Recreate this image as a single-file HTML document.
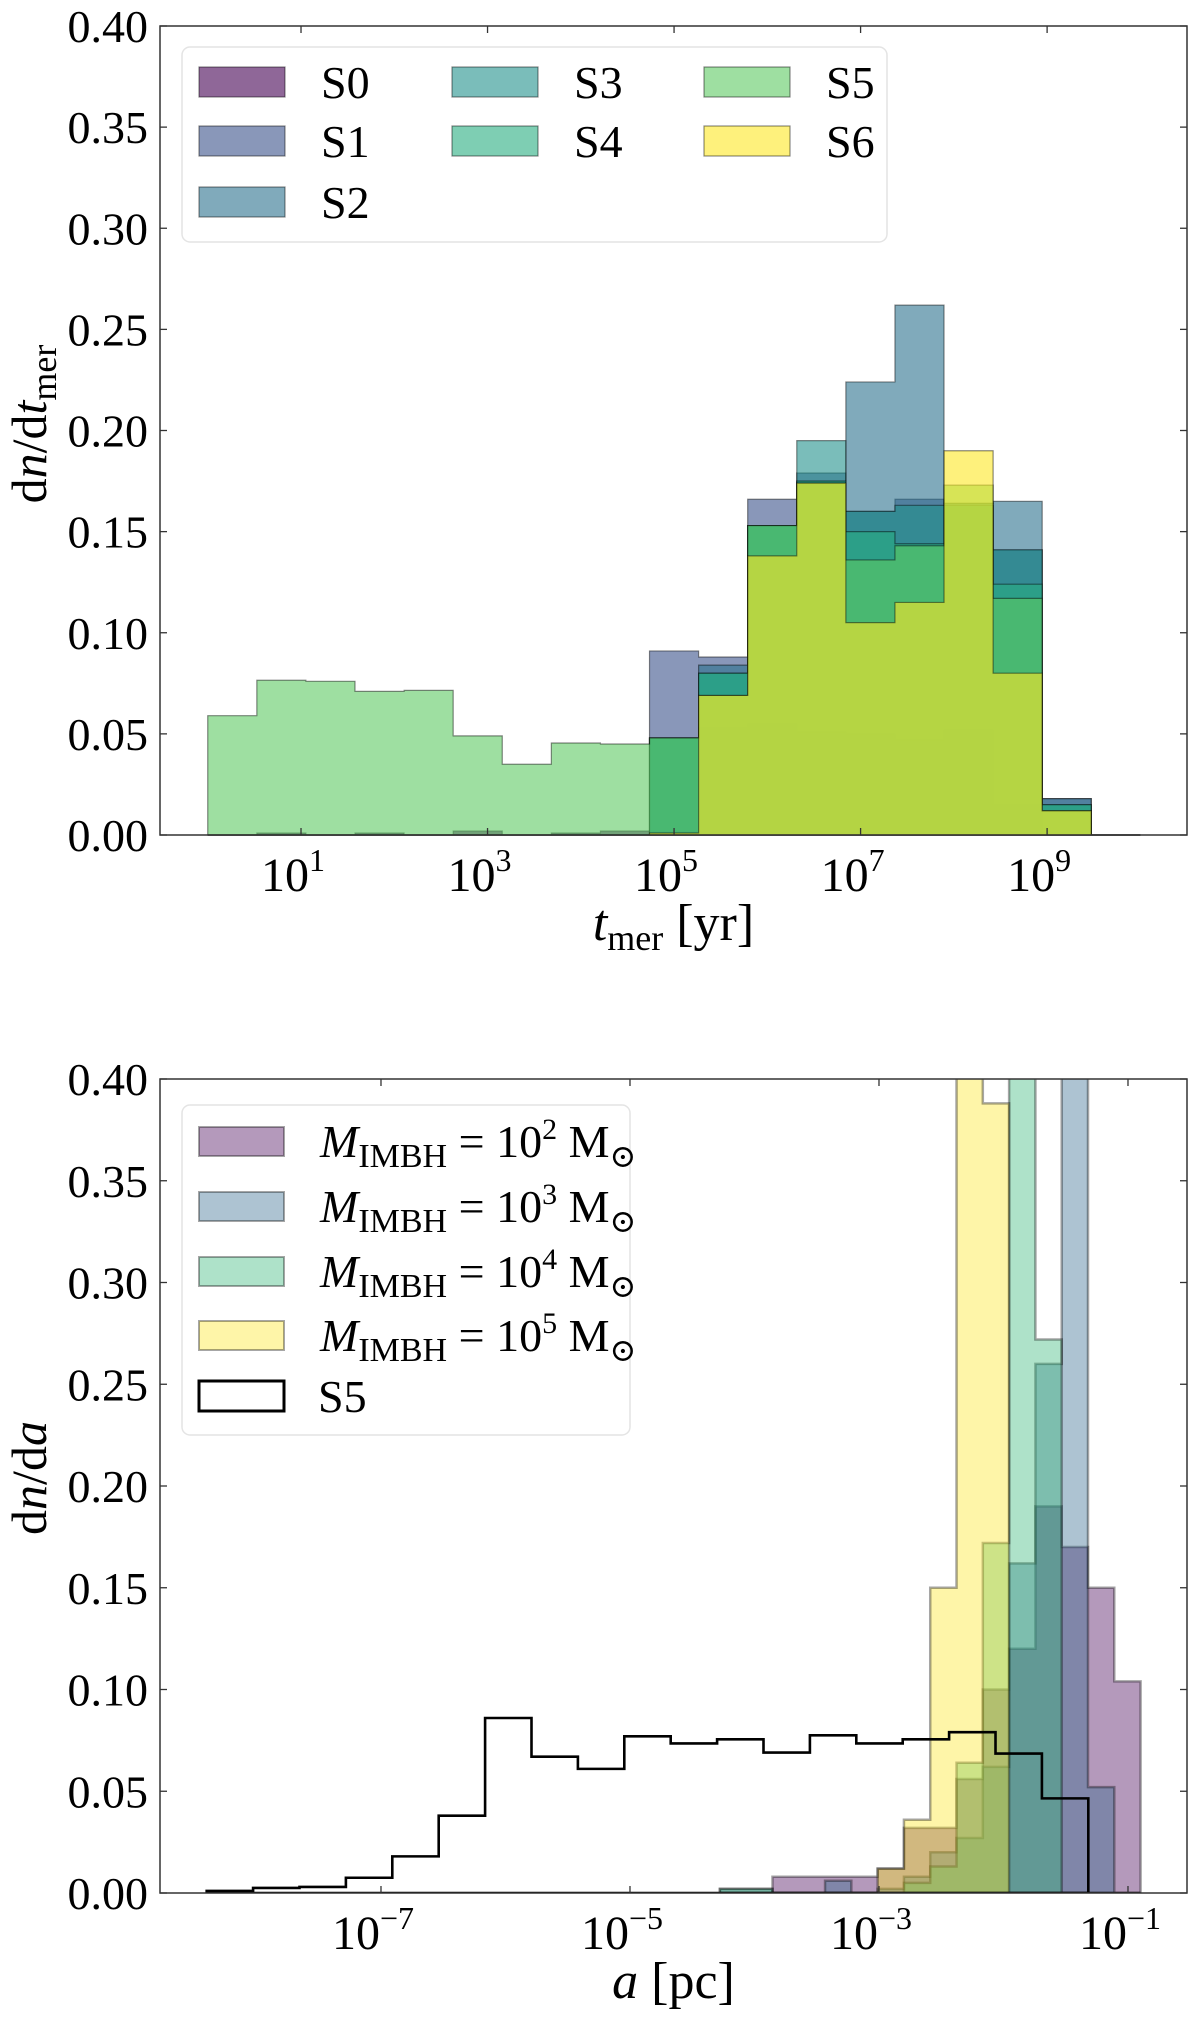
<!DOCTYPE html>
<html><head><meta charset="utf-8">
<style>
html,body{margin:0;padding:0;background:#fff;}
svg{display:block;font-family:"Liberation Serif","DejaVu Serif",serif;}
</style></head>
<body>
<svg id="fig" width="1200" height="2019" viewBox="0 0 1200 2019" xmlns="http://www.w3.org/2000/svg">
<rect width="1200" height="2019" fill="#fff"/>
<g id="top"></g>
<g id="bot"></g>
</svg>
<script>
// ---------- Top chart data (19 log bins from 10^0 to 10^10) ----------
const topBinStart = 0;
const topBinWidth = 10/19;
const topSeriesNames = ["S0","S1","S2","S3","S4","S5","S6"];
const topS0 = [0,0.001,0,0.001,0,0.002,0,0.001,0.002,0.002,0.053,0.055,0.051,0.050,0.047,0.052,0.015,0,0];
const topS1 = [0,0,0,0,0,0,0,0,0,0.091,0.088,0.166,0.179,0.160,0.166,0.163,0.141,0.018,0];
const topS2 = [0,0,0,0,0,0,0,0,0,0.048,0.084,0.153,0.175,0.224,0.262,0.164,0.165,0.018,0];
const topS3 = [0,0,0,0,0,0,0,0,0,0.048,0.080,0.153,0.195,0.160,0.163,0.164,0.141,0.015,0];
const topS4 = [0,0,0,0,0,0,0,0,0,0.048,0.080,0.153,0.175,0.150,0.144,0.163,0.124,0.015,0];
const topS5 = [0.059,0.0765,0.076,0.071,0.0715,0.049,0.035,0.0455,0.045,0.048,0.069,0.153,0.174,0.136,0.143,0.173,0.117,0.012,0];
const topS6 = [0,0,0,0,0,0,0,0,0,0.001,0.069,0.138,0.174,0.105,0.115,0.190,0.080,0.012,0];
const topXTicks = [1,3,5,7,9];
const topYTicks = ["0.00","0.05","0.10","0.15","0.20","0.25","0.30","0.35","0.40"];

// ---------- Bottom chart data ----------
const s5BinStart = -8.40;
const s5BinWidth = 0.3727;
const s5Values = [0.001,0.0025,0.003,0.0075,0.018,0.038,0.086,0.067,0.061,0.077,0.0735,0.0755,0.069,0.0775,0.0735,0.0755,0.079,0.0685,0.0465];
const imbhBinStart = -4.278;
const imbhBinWidth = 0.2112;
const imbh2 = [0,0,0.008,0.008,0.008,0.008,0.012,0.032,0.032,0.056,0.100,0.120,0.190,0.170,0.150,0.104];
const imbh3 = [0.002,0.002,0,0,0.006,0,0.002,0.008,0.020,0.027,0.062,0.162,0.260,0.450,0.052,0];
const imbh4 = [0.002,0.002,0,0,0,0,0,0.005,0.013,0.064,0.172,0.450,0.272,0,0,0];
const imbh5 = [0,0,0,0,0,0,0.012,0.036,0.150,0.450,0.388,0,0,0,0,0];
const botXTicks = [-7,-5,-3,-1];
const botYTicks = ["0.00","0.05","0.10","0.15","0.20","0.25","0.30","0.35","0.40"];

const NS="http://www.w3.org/2000/svg";
function mk(parent,tag,attrs){const e=document.createElementNS(NS,tag);for(const k in attrs)e.setAttribute(k,attrs[k]);parent.appendChild(e);return e;}

function axisFns(x0,x1,lmin,lmax,y0,y1,vmax){
  return {
    X:l=>x0+(l-lmin)/(lmax-lmin)*(x1-x0),
    Y:v=>y1-Math.min(v,vmax*1.02)/vmax*(y1-y0)
  };
}

function histPath(ax,start,w,vals){
  let d="";let first=true;
  vals.forEach((v,i)=>{
    const xa=ax.X(start+i*w), xb=ax.X(start+(i+1)*w);
    if(first){d+="M"+xa+","+ax.Y(0)+" L"+xa+","+ax.Y(v);first=false;}
    else d+=" L"+xa+","+ax.Y(v);
    d+=" L"+xb+","+ax.Y(v);
  });
  d+=" L"+ax.X(start+vals.length*w)+","+ax.Y(0)+" Z";
  return d;
}

function drawFrame(g,ax,x0,x1,y0,y1,yTicks,xTicks,xLabel,yLabelHtml,xTitleY,yTitleY,supSize){
  yTicks.forEach((t,i)=>{
    const v=parseFloat(t), y=ax.Y(v);
    const l=mk(g,"line",{x1:x0,x2:x0+7,y1:y,y2:y,stroke:"#333","stroke-width":1.3});
    
    
    const r=mk(g,"line",{x1:x1,x2:x1-7,y1:y,y2:y,stroke:"#333","stroke-width":1.3});
    
    
    const tx=mk(g,"text",{x:x0-12,y:y+16,"text-anchor":"end","font-size":46,fill:"#000"});
    tx.textContent=t;
    
    
  });
  xTicks.forEach(p=>{
    const x=ax.X(p);
    const l=mk(g,"line",{x1:x,x2:x,y1:y1,y2:y1-7,stroke:"#333","stroke-width":1.3});
    
    
    const u=mk(g,"line",{x1:x,x2:x,y1:y0,y2:y0+7,stroke:"#333","stroke-width":1.3});
    
    
    const tx=mk(g,"text",{x:x-8,y:y1+56,"text-anchor":"middle","font-size":48,fill:"#000"});
    
    
    const a=mk(tx,"tspan",{});a.textContent="10";
    const b=mk(tx,"tspan",{dy:-20,"font-size":supSize});b.textContent=(p<0?"\u2212"+(-p):""+p);
  });
  const fr=mk(g,"rect",{x:x0,y:y0,width:x1-x0,height:y1-y0,fill:"none",stroke:"#333","stroke-width":1.5});
  
  
  const xt=mk(g,"text",{x:(x0+x1)/2,y:xTitleY,"text-anchor":"middle","font-size":52,fill:"#000"});
  xt.innerHTML=xLabel;
  
  
  const yt=mk(g,"text",{x:0,y:0,"text-anchor":"middle","font-size":50,fill:"#000",transform:"translate(46,"+yTitleY+") rotate(-90)"});
  yt.innerHTML=yLabelHtml;
  
  
}

// ---------- TOP ----------
(function(){
  const g=document.getElementById("top");
  const x0=160,x1=1187,y0=26,y1=835;
  const ax=axisFns(x0,x1,-0.512,10.50,y0,y1,0.40);
  const series=[topS0,topS1,topS2,topS3,topS4,topS5,topS6];
  const cols=["#440154","#3b528b","#2c728e","#21918c","#28ae80","#5ec962","#fde725"];
  series.forEach((vals,si)=>{
    const p=mk(g,"path",{d:histPath(ax,topBinStart,topBinWidth,vals),fill:cols[si],"fill-opacity":0.6,stroke:"#000","stroke-opacity":0.45,"stroke-width":1.2});
    
    
  });
  drawFrame(g,ax,x0,x1,y0,y1,topYTicks,topXTicks,
    '<tspan font-style="italic">t</tspan><tspan font-size="36" dy="10">mer</tspan><tspan dy="-10"> [yr]</tspan>',
    'd<tspan font-style="italic">n</tspan>/d<tspan font-style="italic">t</tspan><tspan font-size="36" dy="10">mer</tspan>',
    940,424,32);
  const lg=mk(g,"g",{});
  
  
  const b=mk(lg,"rect",{x:182,y:47,width:705,height:195,rx:8,fill:"#fff","fill-opacity":0.85,stroke:"#e4e4e4","stroke-width":1.5});
  
  
  const pos=[[199,82],[199,141],[199,202],[452,82],[452,141],[704,82],[704,141]];
  topSeriesNames.forEach((n,i)=>{
    const [px,py]=pos[i];
    const r=mk(lg,"rect",{x:px,y:py-15,width:86,height:30,fill:cols[i],"fill-opacity":0.6,stroke:"#000","stroke-opacity":0.45,"stroke-width":1.2});
    
    
    const t=mk(lg,"text",{x:px+122,y:py+16,"font-size":46,fill:"#000"});
    t.textContent=n;
    
    
  });
})();

// ---------- BOTTOM ----------
(function(){
  const g=document.getElementById("bot");
  const x0=160,x1=1187,y0=1079,y1=1893;
  const ax=axisFns(x0,x1,-8.775,-0.526,y0,y1,0.40);
  const clip=mk(g,"clipPath",{id:"bclip"});
  mk(clip,"rect",{x:x0,y:y0,width:x1-x0,height:y1-y0});
  const cg=mk(g,"g",{"clip-path":"url(#bclip)"});
  const ser=[imbh2,imbh3,imbh4,imbh5];
  const cols=["#440154","#31688e","#35b779","#fde725"];
  const names=["imbh-1e2","imbh-1e3","imbh-1e4","imbh-1e5"];
  ser.forEach((vals,si)=>{
    const p=mk(cg,"path",{d:histPath(ax,imbhBinStart,imbhBinWidth,vals),fill:cols[si],"fill-opacity":0.4,stroke:"#000","stroke-opacity":0.35,"stroke-width":2.5});
    
    
  });
  const s5=mk(cg,"path",{d:histPath(ax,s5BinStart,s5BinWidth,s5Values),fill:"none",stroke:"#000","stroke-width":2.6});
  
  
  drawFrame(g,ax,x0,x1,y0,y1,botYTicks,botXTicks,
    '<tspan font-style="italic">a</tspan> [pc]',
    'd<tspan font-style="italic">n</tspan>/d<tspan font-style="italic">a</tspan>',
    1998,1478,32);
  const lg=mk(g,"g",{});
  
  
  const b=mk(lg,"rect",{x:182,y:1105,width:448,height:330,rx:8,fill:"#fff","fill-opacity":0.85,stroke:"#e4e4e4","stroke-width":1.5});
  
  
  const rows=[1142,1207,1272,1336];
  const exps=["2","3","4","5"];
  rows.forEach((py,i)=>{
    const r=mk(lg,"rect",{x:199,y:py-15,width:85,height:29,fill:cols[i],"fill-opacity":0.4,stroke:"#000","stroke-opacity":0.35,"stroke-width":2});
    
    
    const t=mk(lg,"text",{x:320,y:py+15,"font-size":46,fill:"#000"});
    t.innerHTML='<tspan font-style="italic">M</tspan><tspan font-size="34" dy="10">IMBH</tspan><tspan dy="-10"> = 10</tspan><tspan font-size="30" dy="-18">'+exps[i]+'</tspan><tspan dy="18"> M</tspan><tspan font-size="32" dy="10">\u2299</tspan>';
    
    
  });
  const r5=mk(lg,"rect",{x:199,y:1381,width:85,height:30,fill:"none",stroke:"#000","stroke-width":3});
  
  
  const t5=mk(lg,"text",{x:318,y:1412,"font-size":46,fill:"#000"});
  t5.textContent="S5";
  
  
})();
</script>
</body></html>
